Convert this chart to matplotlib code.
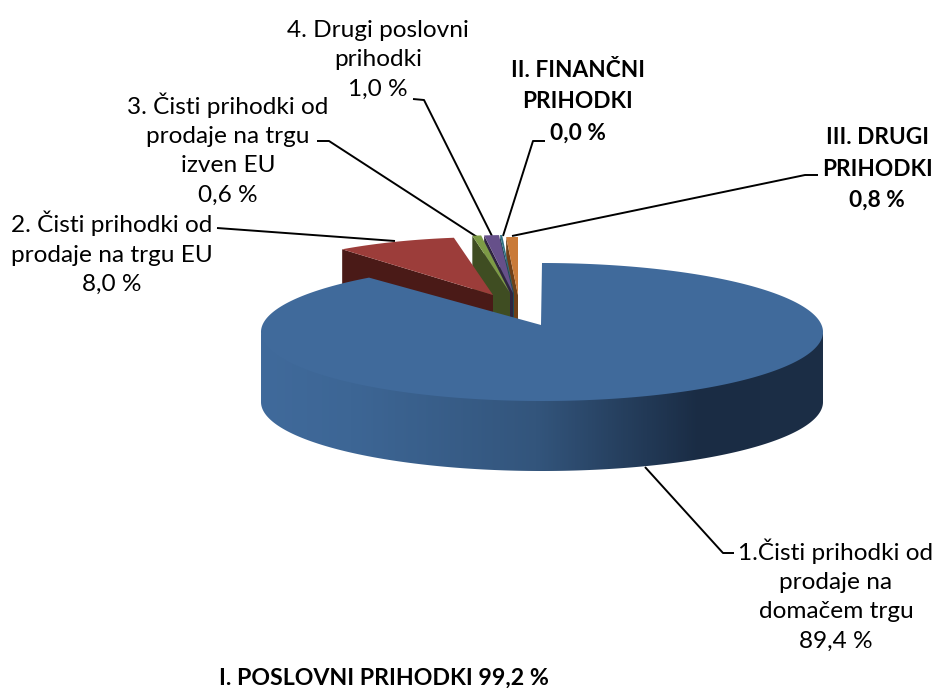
import numpy as np
import matplotlib.pyplot as plt
from matplotlib.colors import LinearSegmentedColormap
from matplotlib.patches import Polygon

plt.rcParams['font.family'] = ['Lato', 'DejaVu Sans']

# slices, clockwise from 12 o'clock
values = [89.4, 8.0, 0.6, 1.0, 0.15, 0.8]  # finance reads 0,0 % but shows as a sliver
labels = ["1.Čisti prihodki od\nprodaje na\ndomačem trgu\n89,4 %",
          "2. Čisti prihodki od\nprodaje na trgu EU\n8,0 %",
          "3. Čisti prihodki od\nprodaje na trgu\nizven EU\n0,6 %",
          "4. Drugi poslovni\nprihodki\n1,0 %",
          "II. FINANČNI\nPRIHODKI\n0,0 %",
          "III. DRUGI\nPRIHODKI\n0,8 %"]
bold = [False, False, False, False, True, True]
title = "I. POSLOVNI PRIHODKI 99,2 %"

top_cols = ['#406A9B', '#9C3D3A', '#7D9B46', '#66508A', '#2F6F82', '#C97A38']
wall_cols = ['#1A2C44', '#4A1A17', '#3F4D22', '#2F2540', '#1E4A57', '#6F4018']

# pixel layout
apex_x = [541, 493, 510, 513, 514, 518]
apex_y = [325, 295, 293, 293, 293, 295]
rad_a = [281, 245, 236, 236, 236, 236]
rad_b = [69, 58, 58, 58, 58, 58]
arc_cx = [542, 493, 510, 513, 514, 518]
arc_cy = [332, 295, 293, 293, 293, 295]
depth = [70, 60, 60, 60, 60, 60]
label_x = [836, 112, 228, 378, 578, 877]
label_y = [595, 253, 149, 60, 102, 169]
leaders = [[(645, 467), (723, 553), (734, 553)],
           [(217, 228), (395, 241)],
           [(317, 141), (329, 141), (477, 237)],
           [(413, 99), (424, 100), (492, 236)],
           [(545, 141), (533, 141), (503, 236)],
           [(818, 175), (805, 175), (512, 236)]]

fig = plt.figure(figsize=(9.34, 6.88), dpi=100)
ax = fig.add_axes([0, 0, 1, 1])

edges = np.concatenate([[0], np.cumsum(values)]) / sum(values) * 2 * np.pi


def arc(i, t0, t1, n=200):
    t = np.linspace(t0, t1, n)
    return arc_cx[i] + rad_a[i] * np.sin(t), arc_cy[i] - rad_b[i] * np.cos(t)


# small slices first, back to front, the big one last
for i in [5, 4, 3, 2, 1]:
    xs, ys = arc(i, edges[i], edges[i + 1], 30)
    ax.fill([apex_x[i], xs[0], xs[0], apex_x[i]],
            [apex_y[i], ys[0], ys[0] + depth[i], apex_y[i] + depth[i]],
            color=wall_cols[i], lw=0, zorder=2)
    ax.fill(np.r_[apex_x[i], xs], np.r_[apex_y[i], ys], color=top_cols[i], lw=0, zorder=2)

# rim of the big slice, shaded left to right (top edge tucked under the face to avoid a seam)
xs, ys = arc(0, np.pi / 2, 1.5 * np.pi, 400)
rim = Polygon(np.c_[np.r_[xs, xs[::-1]], np.r_[ys - 3, ys[::-1] + depth[0]]], closed=True,
              transform=ax.transData, fc='none', ec='none')
ax.add_patch(rim)
shade = LinearSegmentedColormap.from_list('rim', [(0, '#406A9B'), (0.16, '#3D6695'), (0.49, '#33557C'),
                                                  (0.78, '#1A2C44'), (1, '#1C2E46')])
im = ax.imshow(np.linspace(0, 1, 512)[None, :], cmap=shade, aspect='auto', zorder=3,
               extent=(xs.min(), xs.max(), ys.max() + depth[0], ys.min() - 3))
im.set_clip_path(rim)

xs, ys = arc(0, edges[0], edges[1], 400)
ax.fill(np.r_[apex_x[0], xs], np.r_[apex_y[0], ys], color=top_cols[0], lw=0, zorder=4)

for pts in leaders:
    ax.plot(*zip(*pts), color='black', lw=1.4, zorder=1, solid_capstyle='butt')

for i in range(len(labels)):
    ax.text(label_x[i], label_y[i], labels[i], ha='center', va='center',
            fontsize=16.3 if bold[i] else 17.6, fontweight='bold' if bold[i] else 'normal',
            linespacing=1.62 if bold[i] else 1.5, color='black', zorder=5)
ax.text(384, 678, title, ha='center', va='center', fontsize=16.7, fontweight='bold', zorder=5)

ax.set_xlim(0, 934)
ax.set_ylim(688, 0)
ax.axis('off')

fig.savefig('out.png', dpi=100)
